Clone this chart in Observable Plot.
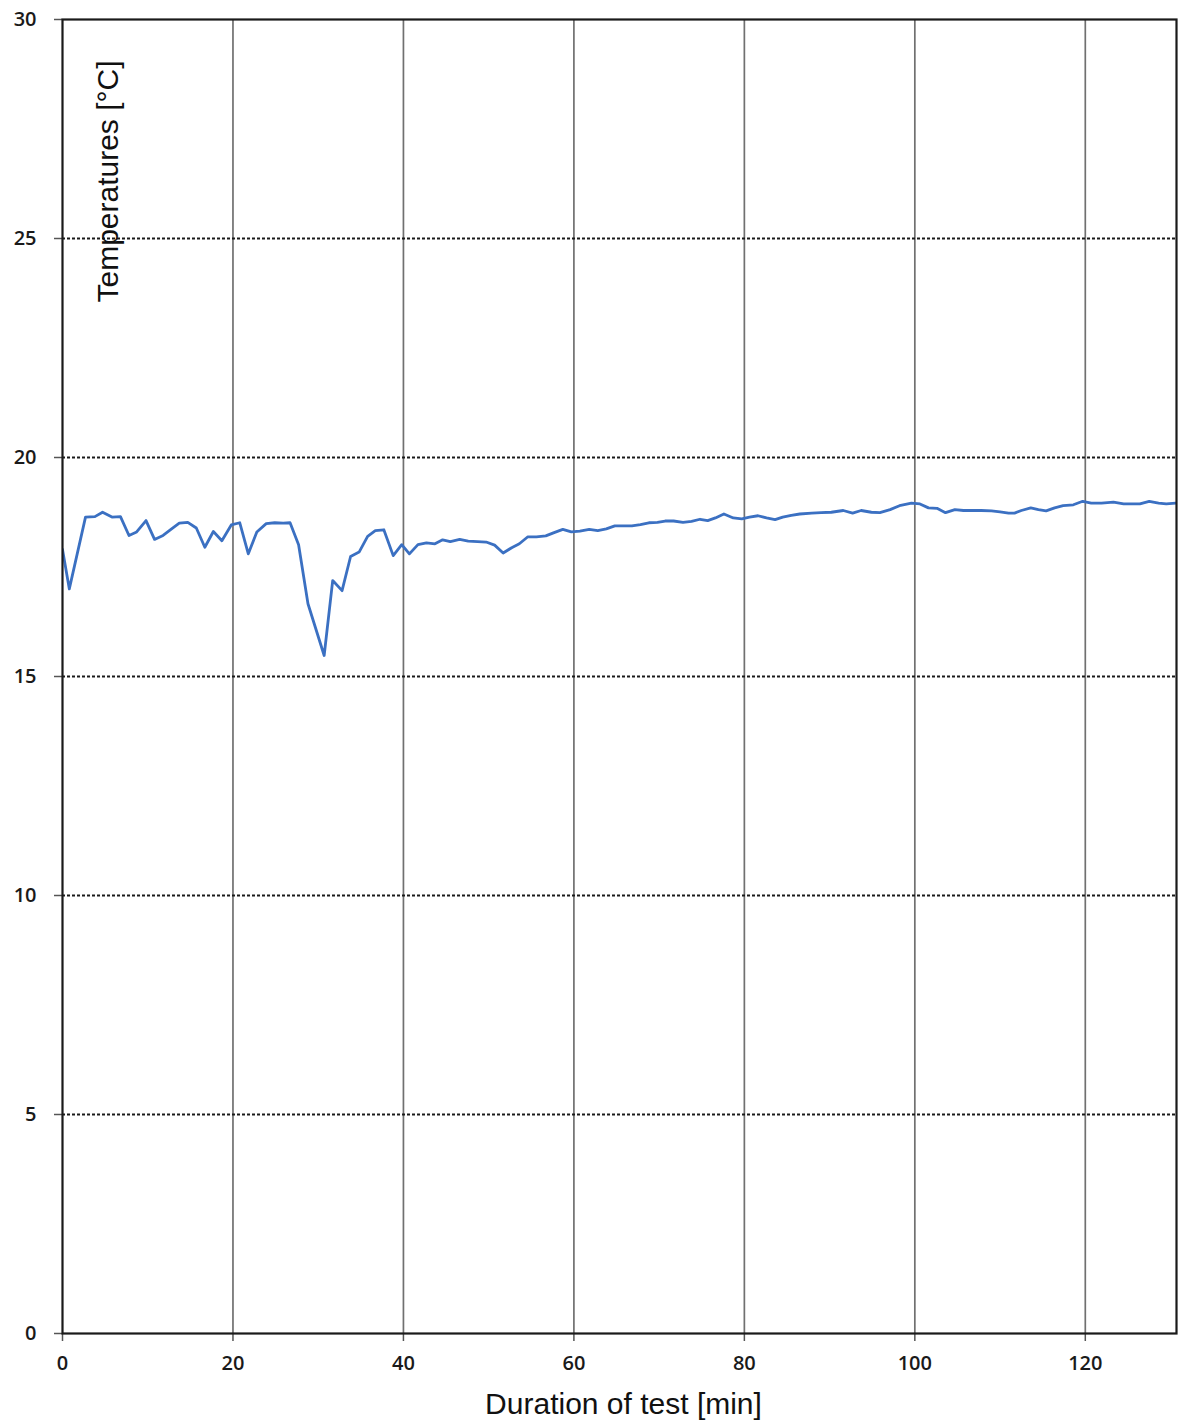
<!DOCTYPE html>
<html>
<head>
<meta charset="utf-8">
<script src="https://cdn.jsdelivr.net/npm/d3@7"></script>
<script src="https://cdn.jsdelivr.net/npm/@observablehq/plot@0.6"></script>
<style>
  html, body { margin: 0; padding: 0; background: #fff; }
  #chart svg { display: block; }
</style>
</head>
<body>
<div id="chart"></div>
<script>
// Duration of test [min]
const minutes = [
  0, 0.8, 2.7, 3.8, 4.7, 5.8, 6.8, 7.8, 8.7, 9.8, 10.8, 11.8, 12.8, 13.7, 14.7, 15.7,
  16.7, 17.7, 18.7, 19.8, 20.8, 21.8, 22.8, 23.9, 24.9, 25.9, 26.7, 27.7, 28.8, 30.7,
  31.7, 32.8, 33.8, 34.8, 35.8, 36.7, 37.7, 38.8, 39.8, 40.7, 41.7, 42.7, 43.7, 44.6,
  45.5, 46.6, 47.6, 48.7, 49.7, 50.7, 51.7, 52.7, 53.6, 54.6, 55.6, 56.7, 57.6, 58.7,
  59.7, 60.7, 61.8, 62.8, 63.8, 64.8, 65.8, 66.8, 67.8, 68.8, 69.8, 70.7, 71.7, 72.8,
  73.8, 74.8, 75.7, 76.6, 77.6, 78.7, 79.7, 80.6, 81.6, 82.6, 83.6, 84.5, 85.5, 86.5,
  87.9, 89.0, 90.2, 91.6, 92.7, 93.7, 94.9, 95.9, 97.1, 98.2, 99.6, 100.6, 101.6, 102.6,
  103.6, 104.7, 105.7, 106.8, 107.8, 109.0, 110.0, 111.0, 111.7, 112.5, 113.6, 114.5,
  115.4, 116.4, 117.4, 118.6, 119.7, 120.7, 121.9, 123.3, 124.5, 125.5, 126.4, 127.5,
  128.6, 129.5, 130.6
];
// Temperatures [°C]
const temps = [
  17.9, 17.0, 18.64, 18.65, 18.75, 18.64, 18.65, 18.22, 18.3, 18.56, 18.13, 18.22, 18.37, 18.5, 18.52, 18.39,
  17.95, 18.31, 18.1, 18.46, 18.51, 17.8, 18.3, 18.49, 18.51, 18.5, 18.51, 18.01, 16.66, 15.48,
  17.19, 16.96, 17.74, 17.84, 18.2, 18.33, 18.35, 17.76, 18.01, 17.8, 18.01, 18.05, 18.03, 18.12,
  18.08, 18.13, 18.09, 18.08, 18.07, 18.0, 17.82, 17.94, 18.03, 18.19, 18.19, 18.21, 18.28, 18.36,
  18.3, 18.32, 18.36, 18.33, 18.37, 18.44, 18.44, 18.44, 18.47, 18.51, 18.52, 18.55, 18.55, 18.52,
  18.54, 18.59, 18.56, 18.62, 18.71, 18.62, 18.6, 18.64, 18.67, 18.62, 18.58, 18.64, 18.68, 18.71,
  18.73, 18.74, 18.75, 18.79, 18.73, 18.79, 18.75, 18.74, 18.81, 18.9, 18.96, 18.94, 18.85, 18.84,
  18.74, 18.81, 18.79, 18.79, 18.79, 18.78, 18.76, 18.73, 18.73, 18.79, 18.85, 18.81,
  18.78, 18.85, 18.9, 18.92, 19.0, 18.96, 18.96, 18.98, 18.94, 18.94, 18.94, 19.0,
  18.96, 18.94, 18.96
];
const xTicks = [0, 20, 40, 60, 80, 100, 120];
const yTicks = [0, 5, 10, 15, 20, 25, 30];
const xGrid = [20, 40, 60, 80, 100, 120];
const yGrid = [5, 10, 15, 20, 25];

const data = minutes.map((m, i) => ({minute: m, temp: temps[i]}));

const tickFont = "'Open Sans', 'Liberation Sans', sans-serif";
const labelFont = "'Liberation Sans', Arial, sans-serif";

const chart = Plot.plot({
  width: 1180,
  height: 1423,
  marginLeft: 62,
  marginRight: 4,
  marginTop: 19,
  marginBottom: 90,
  style: {fontFamily: tickFont, fontSize: "20px", color: "#111", background: "#fff"},
  x: {domain: [0, 130.7], ticks: xTicks, label: null},
  y: {domain: [0, 30], ticks: yTicks, label: null},
  marks: [
    Plot.ruleX(xGrid, {stroke: "#707070", strokeWidth: 1.7}),
    Plot.ruleY(yGrid, {stroke: "#1a1a1a", strokeWidth: 1.8, strokeDasharray: "3,2"}),
    Plot.axisX({ticks: xTicks, tickSize: 8, tickPadding: 14, stroke: "#555", strokeWidth: 1.5, fontSize: 20, fontWeight: 600, fill: "#1a1a1a"}),
    Plot.axisY({ticks: yTicks, tickSize: 8, tickPadding: 18, stroke: "#555", strokeWidth: 1.5, fontSize: 20, fontWeight: 600, fill: "#1a1a1a"}),
    Plot.lineY(data, {x: "minute", y: "temp", stroke: "#3b70c2", strokeWidth: 2.8, clip: true}),
    Plot.frame({stroke: "#1a1a1a", strokeWidth: 2.2}),
    Plot.text(["Temperatures [°C]"], {frameAnchor: "top-left", dx: 46, dy: 162, rotate: -90, textAnchor: "middle", lineAnchor: "middle", fontSize: 30, fontFamily: labelFont, fill: "#111"}),
    Plot.text(["Duration of test [min]"], {frameAnchor: "bottom", dx: 4, dy: 71, textAnchor: "middle", lineAnchor: "middle", fontSize: 30, fontFamily: labelFont, fill: "#111"})
  ]
});
document.getElementById("chart").appendChild(chart);
</script>
</body>
</html>
